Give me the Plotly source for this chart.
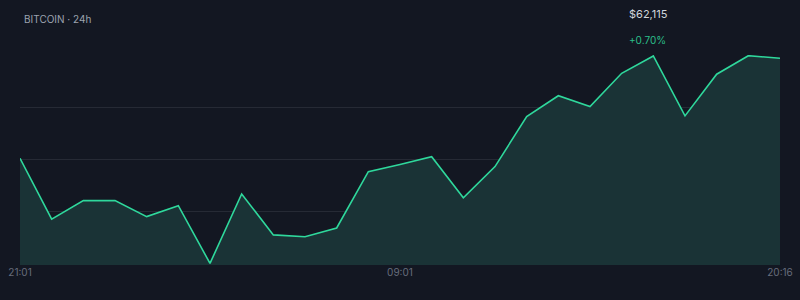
import plotly.graph_objects as go

times = ["21:01", "22:01", "23:01", "00:01", "01:01", "02:01", "03:01", "04:01",
         "05:01", "06:01", "07:01", "08:01", "09:01", "10:01", "11:01", "12:01",
         "13:01", "14:01", "15:01", "16:01", "17:01", "18:01", "19:01", "20:01", "20:16"]
prices = [61683, 61420, 61500, 61500, 61431, 61478, 61229, 61529, 61352, 61344,
          61382, 61625, 61656, 61690, 61512, 61647, 61863, 61953, 61906, 62050,
          62125, 61866, 62046, 62126, 62115]
x_tick_labels = ["21:01", "09:01", "20:16"]
grid_values = [61454, 61679, 61903]

title_text = "BITCOIN · 24h"
price_text = "$62,115"
change_text = "+0.70%"

BG = "#131722"
idx = list(range(len(times)))

fig = go.Figure()
fig.add_trace(go.Scatter(
    x=idx, y=prices, mode="lines",
    line=dict(color="#2fd89c", width=1.6),
    fill="tozeroy", fillcolor="#1a3336",
    hoverinfo="skip",
))

fig.update_layout(
    width=800, height=300,
    margin=dict(l=20, r=20, t=55, b=35, autoexpand=False),
    paper_bgcolor=BG, plot_bgcolor=BG,
    showlegend=False,
    font=dict(family="Inter, Roboto, sans-serif", size=10, color="#6b7280"),
    xaxis=dict(
        range=[0, len(times) - 1],
        tickmode="array",
        tickvals=[times.index(t) for t in x_tick_labels],
        ticktext=x_tick_labels,
        showgrid=False, zeroline=False, showline=False, automargin=False,
        ticks="", tickfont=dict(size=10, color="#676d7c"),
    ),
    yaxis=dict(
        range=[61222, 62129], automargin=False,
        tickmode="array", tickvals=grid_values,
        showticklabels=False, showgrid=True, gridcolor="#262a35", gridwidth=1,
        zeroline=False, showline=False,
    ),
    annotations=[
        dict(text=title_text, xref="paper", yref="paper", x=0, y=1,
             xanchor="left", yanchor="middle", xshift=2, yshift=36,
             showarrow=False, font=dict(size=10, color="#9ca3af")),
        dict(text=price_text, xref="paper", yref="paper", x=0, y=1,
             xanchor="left", yanchor="middle", xshift=607, yshift=41,
             showarrow=False, font=dict(size=11, color="#d1d5db")),
        dict(text=change_text, xref="paper", yref="paper", x=0, y=1,
             xanchor="left", yanchor="middle", xshift=607, yshift=15,
             showarrow=False, font=dict(size=10, color="#2bbf8a")),
    ],
)

fig.write_html("out.html")
